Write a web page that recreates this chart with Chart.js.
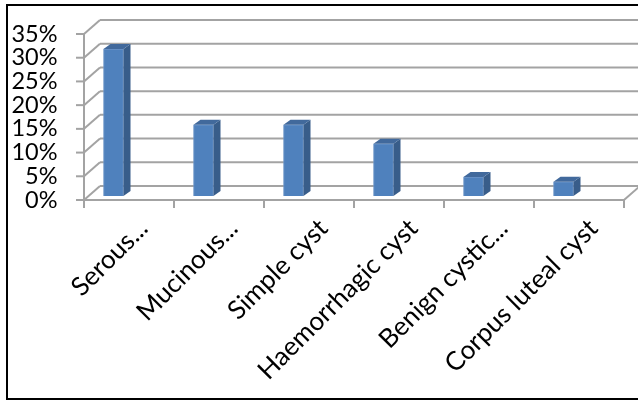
<!DOCTYPE html>
<html>
<head>
<meta charset="utf-8">
<title>Ovarian lesions</title>
<script src="https://cdn.jsdelivr.net/npm/chart.js@4.4.1/dist/chart.umd.min.js"></script>
<style>
  html, body { margin: 0; padding: 0; background: #fff; }
  #wrap { position: relative; width: 638px; height: 401px; }
</style>
</head>
<body>
<div id="wrap"><canvas id="chart"></canvas></div>
<script>
const categories = ['Serous...', 'Mucinous...', 'Simple cyst', 'Haemorrhagic cyst', 'Benign cystic...', 'Corpus luteal cyst'];
const percentages = [31, 15, 15, 11, 4, 3];
const yTicks = [0, 5, 10, 15, 20, 25, 30, 35];

const FONT = 'Lato';
const GRID = '#a3a3a3';

// fake 3D: walls and floor are the bar scale shifted by a fixed depth
const FRONT_DY = 4, BACK_DY = -10;
const WALL_DX = 15.5, DEPTH_X = 16;
const BAR_DX = 7, BAR_DY = -5;

function line(ctx, x1, y1, x2, y2) {
  ctx.beginPath();
  ctx.moveTo(x1, y1);
  ctx.lineTo(x2, y2);
  ctx.stroke();
}

const box3d = {
  id: 'box3d',
  beforeDatasetsDraw(chart) {
    const { ctx, scales: { x, y } } = chart;
    const catW = (x.right - x.left) / categories.length;
    const fx = x.left + WALL_DX;
    const bx = fx + DEPTH_X;
    const fx2 = fx + catW * categories.length;
    ctx.save();
    ctx.strokeStyle = GRID;
    ctx.lineWidth = 2;
    yTicks.forEach(v => {
      const yf = y.getPixelForValue(v) + FRONT_DY;
      const yb = y.getPixelForValue(v) + BACK_DY;
      line(ctx, bx, yb, chart.width + 2, yb);
      line(ctx, fx, yf, bx, yb);
      line(ctx, fx - 8, yf, fx, yf);
    });
    const top = y.getPixelForValue(35) + FRONT_DY;
    const floor = y.getPixelForValue(0) + FRONT_DY;
    line(ctx, fx, top, fx, floor);
    line(ctx, fx, floor, fx2, floor);
    line(ctx, fx2, floor, fx2 + DEPTH_X, floor + BACK_DY - FRONT_DY);
    for (let i = 0; i <= categories.length; i++) {
      const tx = fx + i * catW;
      line(ctx, tx, floor, tx, floor + 8);
    }
    ctx.restore();
  },
  afterDatasetsDraw(chart) {
    const ctx = chart.ctx;
    ctx.save();
    chart.getDatasetMeta(0).data.forEach(bar => {
      const { x, y, base, width } = bar.getProps(['x', 'y', 'base', 'width'], true);
      const l = x - width / 2, r = x + width / 2;
      ctx.fillStyle = '#385d8a';
      ctx.beginPath();
      ctx.moveTo(r, y);
      ctx.lineTo(r + BAR_DX, y + BAR_DY);
      ctx.lineTo(r + BAR_DX, base + BAR_DY);
      ctx.lineTo(r, base);
      ctx.closePath();
      ctx.fill();
      ctx.fillStyle = '#41699c';
      ctx.beginPath();
      ctx.moveTo(l, y);
      ctx.lineTo(l + BAR_DX, y + BAR_DY);
      ctx.lineTo(r + BAR_DX, y + BAR_DY);
      ctx.lineTo(r, y);
      ctx.closePath();
      ctx.fill();
    });
    ctx.restore();
  },
  afterDraw(chart) {
    const ctx = chart.ctx;
    ctx.save();
    ctx.strokeStyle = '#000';
    ctx.lineWidth = 2;
    ctx.strokeRect(7, 5, chart.width + 10, 394);
    ctx.restore();
  }
};

new Chart(document.getElementById('chart'), {
  type: 'bar',
  data: {
    labels: categories,
    datasets: [{
      data: percentages,
      backgroundColor: '#4f81bd',
      borderColor: '#6d95c8',
      borderWidth: 1,
      barThickness: 20
    }]
  },
  options: {
    responsive: true,
    maintainAspectRatio: false,
    animation: false,
    layout: { padding: { left: 5, right: 29.5, top: 30, bottom: 0 } },
    plugins: { legend: { display: false }, tooltip: { enabled: false } },
    scales: {
      x: {
        grid: { display: false, drawTicks: false },
        border: { display: false },
        afterFit: s => { s.height = 205; },
        ticks: {
          autoSkip: false,
          minRotation: 45,
          maxRotation: 45,
          padding: 17,
          labelOffset: 30,
          color: '#000',
          font: { family: FONT, size: 26 }
        }
      },
      y: {
        min: 0,
        max: 35,
        grid: { display: false, drawTicks: false },
        border: { display: false },
        afterFit: s => { s.width = 63.5; },
        ticks: {
          autoSkip: false,
          stepSize: 5,
          padding: 11,
          labelOffset: 4,
          color: '#000',
          font: { family: FONT, size: 23.5 },
          callback: v => v + '%'
        }
      }
    }
  },
  plugins: [box3d]
});
</script>
</body>
</html>
